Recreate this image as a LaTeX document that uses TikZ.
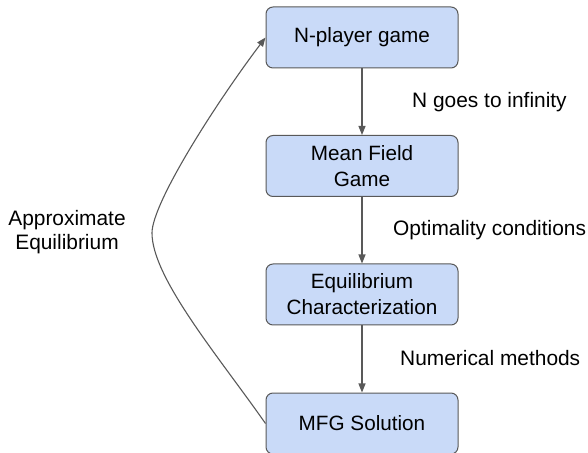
\documentclass[tikz,border=0pt]{standalone}
\usepackage{fontspec}
\setmainfont{Liberation Sans}
\usetikzlibrary{arrows.meta}
\definecolor{boxblue}{HTML}{C9DAF8}
\definecolor{edgegray}{HTML}{595959}
\tikzset{box/.style = {draw = edgegray, fill = boxblue, rounded corners = 7pt, line width = 1pt,
    minimum width = 192pt, minimum height = 61pt, align = center, inner sep = 0,
    font = \fontsize{20.7}{26}\selectfont}}
\tikzset{lbl/.style = {align = center, inner sep = 0, font = \fontsize{20.9}{24}\selectfont}}
\tikzset{flow/.style = {draw = edgegray, line width = 1.1pt, -{Triangle[length = 9pt, width = 7pt]}}}

\begin{document}
\begin{tikzpicture}[x = 1pt, y = 1pt]
      \useasboundingbox (0, 0) rectangle (588, 452);

      \node [box] (game) at (362, 414.5) {N-player game};
      \node [box] (mfg) at (362, 286) {Mean Field\\Game};
      \node [box] (eqchar) at (362, 157.5) {Equilibrium\\Characterization};
      \node [box] (sol) at (362, 28.5) {MFG Solution};

      \draw [flow] (game) -- (mfg);
      \draw [flow] (mfg) -- (eqchar);
      \draw [flow] (eqchar) -- (sol);

      \node [lbl, anchor = west] (ninf) at (412, 350) {N goes to infinity};
      \node [lbl, anchor = west] (optc) at (393, 222) {Optimality conditions};
      \node [lbl, anchor = west] (nummeth) at (400, 94) {Numerical methods};

      % loop back from the solution to the game
      \coordinate (bend) at (152, 219);
      \draw [flow] (sol.west) .. controls (219, 95) and (152, 174) .. (bend)
                              .. controls (152, 249) and (216, 349) .. (game.west);
      \node [lbl] (approx) at (67, 220) {Approximate\\Equilibrium};
    \end{tikzpicture}
\end{document}
